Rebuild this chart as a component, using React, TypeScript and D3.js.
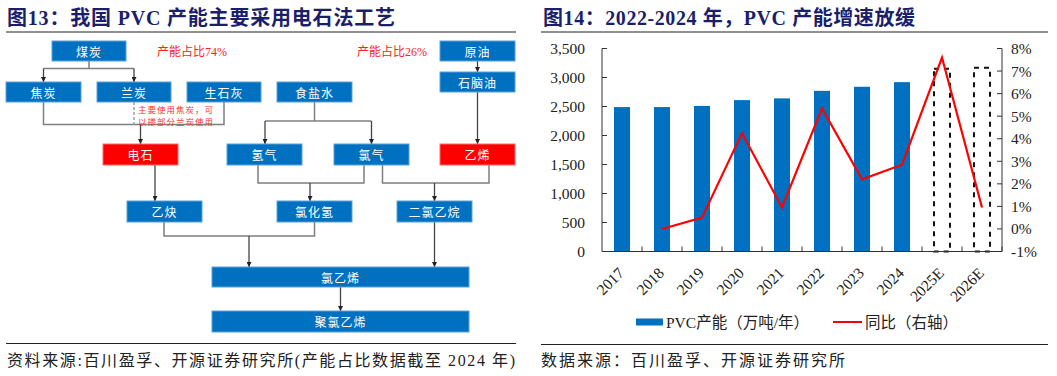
import React from 'react';
import * as d3 from 'd3';

// ---------- Right chart data ----------
const years = ['2017', '2018', '2019', '2020', '2021', '2022', '2023', '2024', '2025E', '2026E'];
const capacity = [2490, 2490, 2510, 2610, 2640, 2770, 2840, 2920, 3150, 3170];
const yoy: (number | null)[] = [null, 0.0, 0.5, 4.25, 0.95, 5.35, 2.2, 2.85, 7.6, 0.95];
const estimated = [false, false, false, false, false, false, false, false, true, true];
const leftTicks = [0, 500, 1000, 1500, 2000, 2500, 3000, 3500];
const rightTicks = [-1, 0, 1, 2, 3, 4, 5, 6, 7, 8];

const leftTitle = '图13：我国 PVC 产能主要采用电石法工艺';
const rightTitle = '图14：2022-2024 年，PVC 产能增速放缓';
const leftSource = '资料来源:百川盈孚、开源证券研究所(产能占比数据截至 2024 年)';
const rightSource = '数据来源：百川盈孚、开源证券研究所';
const legendBar = 'PVC产能（万吨/年）';
const legendLine = '同比（右轴）';

// ---------- Left flow diagram ----------
type Box = { label: string; x: number; y: number; w: number; h: number; red?: boolean };
const boxes: Box[] = [
  { label: '煤炭', x: 52, y: 41, w: 74, h: 20 },
  { label: '焦炭', x: 6, y: 82, w: 75, h: 20 },
  { label: '兰炭', x: 97, y: 82, w: 74, h: 20 },
  { label: '生石灰', x: 187, y: 82, w: 74, h: 20 },
  { label: '食盐水', x: 277, y: 82, w: 75, h: 20 },
  { label: '原油', x: 440, y: 41, w: 75, h: 20 },
  { label: '石脑油', x: 440, y: 72, w: 75, h: 20 },
  { label: '电石', x: 103, y: 144, w: 75, h: 21, red: true },
  { label: '氢气', x: 227, y: 144, w: 75, h: 21 },
  { label: '氯气', x: 334, y: 144, w: 75, h: 21 },
  { label: '乙烯', x: 440, y: 144, w: 75, h: 21, red: true },
  { label: '乙炔', x: 127, y: 201, w: 75, h: 21 },
  { label: '氯化氢', x: 277, y: 201, w: 75, h: 21 },
  { label: '二氯乙烷', x: 397, y: 201, w: 75, h: 21 },
  { label: '氯乙烯', x: 212, y: 267, w: 257, h: 20 },
  { label: '聚氯乙烯', x: 212, y: 311, w: 257, h: 21 },
];

// plain connector polylines
const lines: [number, number][][] = [
  [[89, 61], [89, 68.5]],
  [[43.5, 68.5], [134, 68.5]],
  [[43.5, 102], [43.5, 124.5], [224, 124.5], [224, 102]],
  [[314.5, 102], [314.5, 121]],
  [[265, 121], [371.5, 121]],
  [[258, 165], [258, 183], [364, 183], [364, 165]],
  [[382.5, 165], [382.5, 183], [489, 183], [489, 165]],
  [[164, 222], [164, 236], [314.5, 236], [314.5, 222]],
];
// arrows (last point gets arrowhead)
const arrows: [number, number][][] = [
  [[43.5, 68.5], [43.5, 82]],
  [[134, 68.5], [134, 82]],
  [[140.5, 124.5], [140.5, 144]],
  [[265, 121], [265, 144]],
  [[371.5, 121], [371.5, 144]],
  [[477.5, 61], [477.5, 72]],
  [[477.5, 92], [477.5, 144]],
  [[155, 165], [155, 201]],
  [[310, 183], [310, 201]],
  [[434.5, 183], [434.5, 201]],
  [[249, 236], [249, 267]],
  [[434.5, 222], [434.5, 267]],
  [[340.5, 287], [340.5, 311]],
];

const SERIF = '"Liberation Serif", "Times New Roman", "Noto Sans CJK SC", serif';
const CJK = '"Noto Sans CJK SC", "Liberation Serif", sans-serif';
const TITLE_COLOR = '#1b1f6b';
const BLUE = '#0070C0';

export default function App() {
  const x = d3.scaleBand<string>().domain(years).range([602, 1002]).paddingInner(0.6).paddingOuter(0.3);
  const yL = d3.scaleLinear().domain([0, 3500]).range([251.5, 48.5]);
  const yR = d3.scaleLinear().domain([-1, 8]).range([251.5, 48.5]);
  const cx = (y: string) => (x(y) as number) + x.bandwidth() / 2;
  const lineGen = d3
    .line<{ y: string; v: number }>()
    .x((d) => cx(d.y))
    .y((d) => yR(d.v));
  const linePts = years
    .map((y, i) => ({ y, v: yoy[i] as number }))
    .filter((d, i) => yoy[i] !== null);
  const pathLine = d3.line();

  return (
    <div style={{ position: 'absolute', left: 0, top: 0 }}>
      <svg width={1057} height={376} style={{ display: 'block', background: '#fff' }}>
        <defs>
          <marker id="arr" viewBox="0 0 6 6" refX={6} refY={3} markerWidth={5} markerHeight={5}
            markerUnits="userSpaceOnUse" orient="auto">
            <path d="M0,0 L6,3 L0,6 z" fill="#222" />
          </marker>
        </defs>

        {/* ---------- Titles ---------- */}
        <text x={7} y={25} fontFamily={SERIF} fontWeight="bold" fontSize={20} fill={TITLE_COLOR}
          textLength={388} lengthAdjust="spacing">{leftTitle}</text>
        <line x1={6} x2={516} y1={32} y2={32} stroke="#222" strokeWidth={1.2} />
        <text x={543} y={25} fontFamily={SERIF} fontWeight="bold" fontSize={20} fill={TITLE_COLOR}
          textLength={372} lengthAdjust="spacing">{rightTitle}</text>
        <line x1={541} x2={1048} y1={32} y2={32} stroke="#222" strokeWidth={1.2} />

        {/* ---------- Flow diagram ---------- */}
        {lines.map((pts, i) => (
          <path key={'l' + i} d={pathLine(pts) as string} fill="none" stroke="#7f7f7f" strokeWidth={1.5} />
        ))}
        <path d="M134,102 L134,124.5" stroke="#9a9a9a" strokeWidth={1.4} strokeDasharray="3,2" />
        {arrows.map((pts, i) => (
          <path key={'a' + i} d={pathLine(pts) as string} fill="none" stroke="#444" strokeWidth={1.3}
            markerEnd="url(#arr)" />
        ))}
        {boxes.map((b) => (
          <g key={b.label}>
            <rect x={b.x} y={b.y} width={b.w} height={b.h} fill={b.red ? '#FF0000' : BLUE}
              stroke={b.red ? '#ff6a6a' : '#5aa2da'} strokeWidth={1} />
            <text x={b.x + b.w / 2} y={b.y + b.h / 2} textAnchor="middle" dominantBaseline="central"
              fontFamily={CJK} fontSize={12} fill="#fff" letterSpacing={1}>{b.label}</text>
          </g>
        ))}
        <text x={157} y={52} dominantBaseline="central" fontFamily={SERIF} fontSize={12} fill="#ff2020">产能占比74%</text>
        <text x={357} y={52} dominantBaseline="central" fontFamily={SERIF} fontSize={12} fill="#ff2020">产能占比26%</text>
        <text x={138} y={109} dominantBaseline="central" fontFamily={CJK} fontSize={8.5} fill="#ff3030"
          textLength={75} lengthAdjust="spacing">主要使用焦炭，可</text>
        <text x={138} y={121} dominantBaseline="central" fontFamily={CJK} fontSize={8.5} fill="#ff3030"
          textLength={75} lengthAdjust="spacing">以掺部分兰炭使用</text>

        <line x1={6} x2={516} y1={343.5} y2={343.5} stroke="#222" strokeWidth={1.2} />
        <text x={7} y={366} fontFamily={SERIF} fontSize={16} fill="#222" textLength={508}
          lengthAdjust="spacing">{leftSource}</text>

        {/* ---------- Bar/line chart ---------- */}
        {years.map((y, i) =>
          estimated[i] ? null : (
            <rect key={'b' + y} x={x(y)} y={yL(capacity[i])} width={x.bandwidth()}
              height={yL(0) - yL(capacity[i])} fill={BLUE} />
          )
        )}
        {years.map((y, i) =>
          estimated[i] ? (
            <rect key={'e' + y} x={x(y)} y={yL(capacity[i])} width={x.bandwidth()}
              height={yL(0) - yL(capacity[i])} fill="#fff" stroke="#111" strokeWidth={2}
              strokeDasharray="5,5" />
          ) : null
        )}

        {/* axes */}
        <line x1={602} x2={602} y1={48.5} y2={251.5} stroke="#333" strokeWidth={1} />
        <line x1={1002} x2={1002} y1={48.5} y2={251.5} stroke="#333" strokeWidth={1} />
        <line x1={602} x2={1002} y1={251.5} y2={251.5} stroke="#333" strokeWidth={1} />
        {leftTicks.map((t) => (
          <g key={'lt' + t}>
            <line x1={602} x2={607} y1={yL(t)} y2={yL(t)} stroke="#333" />
            <text x={585} y={yL(t)} textAnchor="end" dominantBaseline="central" fontFamily={SERIF}
              fontSize={15.5} fill="#222">{d3.format(',')(t)}</text>
          </g>
        ))}
        {rightTicks.map((t) => (
          <g key={'rt' + t}>
            <line x1={997} x2={1002} y1={yR(t)} y2={yR(t)} stroke="#333" />
            <text x={1011} y={yR(t)} dominantBaseline="central" fontFamily={SERIF} fontSize={15.5}
              fill="#222">{t + '%'}</text>
          </g>
        ))}
        {years.map((y, i) => (
          <line key={'xt' + y} x1={602 + x.step() * (i + 1)} x2={602 + x.step() * (i + 1)}
            y1={246.5} y2={251.5} stroke="#333" />
        ))}
        {years.map((y) => (
          <text key={'xl' + y} transform={`translate(${cx(y) + 3},${274}) rotate(-45)`} textAnchor="end"
            fontFamily={SERIF} fontSize={15.5} fill="#222">{y}</text>
        ))}

        <path d={lineGen(linePts) as string} fill="none" stroke="#FF0000" strokeWidth={2.2}
          strokeLinejoin="miter" />

        {/* legend */}
        <rect x={636} y={318.5} width={27} height={7} fill={BLUE} />
        <text x={666} y={322} dominantBaseline="central" fontFamily={SERIF} fontSize={15.5} fill="#222">{legendBar}</text>
        <line x1={833} x2={862} y1={322} y2={322} stroke="#FF0000" strokeWidth={2} />
        <text x={865} y={322} dominantBaseline="central" fontFamily={SERIF} fontSize={15.5} fill="#222">{legendLine}</text>

        <line x1={541} x2={1048} y1={344.5} y2={344.5} stroke="#222" strokeWidth={1.2} />
        <text x={541} y={366} fontFamily={SERIF} fontSize={16} fill="#222" textLength={304}
          lengthAdjust="spacing">{rightSource}</text>
      </svg>
    </div>
  );
}
